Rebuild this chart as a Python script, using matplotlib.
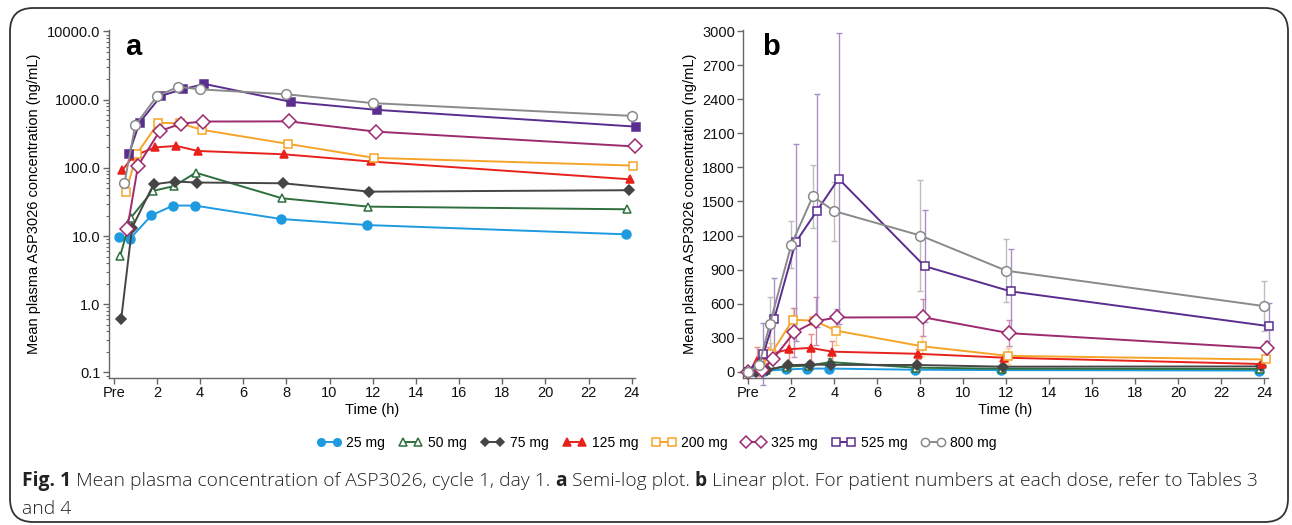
import matplotlib
matplotlib.use("Agg")
import matplotlib.pyplot as plt
from matplotlib.patches import FancyBboxPatch
from matplotlib.ticker import FixedLocator, LogLocator, NullFormatter
import numpy as np

# ---------------- data ----------------
doses = ["25 mg", "50 mg", "75 mg", "125 mg", "200 mg", "325 mg", "525 mg", "800 mg"]
times = [0.5, 1, 2, 3, 4, 8, 12, 24]          # nominal sampling times (h)
pre_value = 0.0                                # pre-dose concentration (linear plot)

mean_25 = [9.7, 9.1, 20.1, 28, 28, 17.8, 14.5, 10.6]
mean_50 = [5.1, 18.6, 45.8, 54, 85, 35.8, 27, 24.7]
mean_75 = [0.61, 13.2, 57.5, 63, 61, 59.4, 44.8, 47]
mean_125 = [92, 148, 199, 210, 177, 158, 124, 68]
mean_200 = [44.5, 160, 458, 450, 362, 225, 140, 108]
mean_325 = [12.8, 108, 346, 445, 478, 480, 340, 206]
mean_525 = [157, 462, 1140, 1420, 1700, 930, 708, 402]
mean_800 = [60, 420, 1120, 1545, 1415, 1200, 890, 578]

sd_25 = [5, 5, 8, 10, 10, 6, 5, 4]
sd_50 = [5, 15, 30, 35, 40, 20, 15, 12]
sd_75 = [1, 10, 30, 35, 30, 30, 25, 25]
sd_125 = [125, 70, 180, 120, 90, 45, 30, 20]
sd_200 = [30, 90, 105, 40, 130, 90, 70, 25]
sd_325 = [15, 80, 215, 210, 75, 165, 115, 65]
sd_525 = [270, 365, 870, 1030, 1280, 495, 370, 200]
sd_800 = [50, 235, 210, 275, 260, 490, 280, 220]

means = [mean_25, mean_50, mean_75, mean_125, mean_200, mean_325, mean_525, mean_800]
sds = [sd_25, sd_50, sd_75, sd_125, sd_200, sd_325, sd_525, sd_800]

log_ticks = [0.1, 1, 10, 100, 1000, 10000]
log_ticklabels = ["0.1", "1.0", "10.0", "100.0", "1000.0", "10000.0"]
lin_ticks = list(range(0, 3001, 300))
x_ticks = list(range(0, 25, 2))
x_ticklabels = ["Pre"] + [str(t) for t in x_ticks[1:]]

# ---------------- styles ----------------
colors = ["#1e9be0", "#2f6f3e", "#454545", "#e8211c", "#f6a428", "#9c2a6e", "#5a2d8e", "#8a8a8a"]
bar_colors = ["#86c8ee", "#8fb59a", "#9a9a9a", "#f08a86", "#f9cf8c", "#c98db0", "#a98fc8", "#bdbdbd"]
markers = ["o", "^", "D", "^", "s", "D", "s", "o"]
filled_a = [True, False, True, True, False, False, True, False]
filled_b = [True, False, True, True, False, False, False, False]
msizes = [6.4, 6.2, 5.2, 6.2, 6.2, 6.8, 6.2, 7.0]
jitter = [-0.25, -0.2, -0.15, -0.1, 0.07, 0.13, 0.2, 0.0]

FONT = ["Liberation Sans", "DejaVu Sans"]
plt.rcParams["font.family"] = FONT
plt.rcParams["axes.linewidth"] = 1.0

W, H = 1292, 525
fig = plt.figure(figsize=(W / 100, H / 100), dpi=100)

# frame around the whole figure
frame = FancyBboxPatch((10 / W, 3 / H), (W - 14) / W, (H - 11) / H,
                       boxstyle="round,pad=0,rounding_size=0.018",
                       transform=fig.transFigure, fill=False,
                       edgecolor="#333333", linewidth=1.3, mutation_aspect=W / H)
fig.patches.append(frame)

axA = fig.add_axes([108.7 / W, 1 - 378 / H, (635 - 108.7) / W, (378 - 30) / H])
axB = fig.add_axes([743.4 / W, 1 - 378 / H, (1267.5 - 743.4) / W, (378 - 30) / H])

spine_col = "#666666"
for ax in (axA, axB):
    for s in ("top", "right"):
        ax.spines[s].set_visible(False)
    for s in ("left", "bottom"):
        ax.spines[s].set_color(spine_col)
    ax.tick_params(axis="both", which="major", direction="out", length=4, width=1,
                   color=spine_col, labelsize=10.5, labelcolor="#111111", pad=2)
    ax.tick_params(axis="both", which="minor", direction="out", length=2.5, width=0.8,
                   color=spine_col)
    ax.set_xlim(-0.23, 24.15)
    ax.xaxis.set_major_locator(FixedLocator(x_ticks))
    ax.set_xticklabels(x_ticklabels)
    ax.set_xlabel("Time (h)", fontsize=10.5, labelpad=2)
    ax.set_ylabel("Mean plasma ASP3026 concentration (ng/mL)", fontsize=10.5, labelpad=4)

# ---- panel a (semi-log) ----
axA.set_yscale("log")
axA.set_ylim(0.083, 10500)
axA.yaxis.set_major_locator(FixedLocator(log_ticks))
axA.set_yticklabels(log_ticklabels)
axA.yaxis.set_minor_locator(LogLocator(base=10, subs=np.arange(2, 10)))
axA.yaxis.set_minor_formatter(NullFormatter())

handles = []
for i in range(len(doses)):
    x = [t + jitter[i] for t in times]
    mfc = colors[i] if filled_a[i] else "white"
    axA.plot(x, means[i], color=colors[i], lw=1.4, marker=markers[i], ms=msizes[i],
             mfc=mfc, mec=colors[i], mew=1.1, zorder=3 + i * 0.1, clip_on=False)

# ---- panel b (linear) ----
axB.set_ylim(-55, 3010)
axB.yaxis.set_major_locator(FixedLocator(lin_ticks))
for i in range(len(doses)):
    x = [0.0] + [t + jitter[i] for t in times]
    y = [pre_value] + list(means[i])
    e = [0.0] + list(sds[i])
    axB.errorbar(x, y, yerr=e, fmt="none", ecolor=bar_colors[i], elinewidth=1.0,
                 capsize=2.5, capthick=1.0, zorder=2, clip_on=False)
for i in range(len(doses)):
    x = [0.0] + [t + jitter[i] for t in times]
    y = [pre_value] + list(means[i])
    mfc = colors[i] if filled_b[i] else "white"
    h, = axB.plot(x, y, color=colors[i], lw=1.4, marker=markers[i], ms=msizes[i],
                  mfc=mfc, mec=colors[i], mew=1.1, zorder=3 + i * 0.1, clip_on=False)
    handles.append(h)

axA.text(0.031, 0.951, "a", transform=axA.transAxes, fontsize=21, fontweight="bold",
         va="center", ha="left")
axB.text(0.035, 0.951, "b", transform=axB.transAxes, fontsize=21, fontweight="bold",
         va="center", ha="left")

leg = fig.legend(handles, doses, loc="center", bbox_to_anchor=(657 / W, 1 - 443 / H), ncol=8,
                 frameon=False, fontsize=10, numpoints=2, handlelength=1.7,
                 handletextpad=0.4, columnspacing=1.0, borderaxespad=0, markerscale=0.85)

# ---------------- caption (mixed weights) ----------------
CAP = ["Open Sans", "DejaVu Sans"]
cap_size = 13.9
cap_col = "#222222"
line1 = [("Fig. 1", "bold"), (" Mean plasma concentration of ASP3026, cycle 1, day 1. ", "light"),
         ("a", "bold"), (" Semi-log plot. ", "light"), ("b", "bold"),
         (" Linear plot. For patient numbers at each dose, refer to Tables 3", "light")]
line2 = [("and 4", "light")]

renderer = fig.canvas.get_renderer()

def draw_runs(runs, x0, y0):
    x = x0
    for txt, wt in runs:
        t = fig.text(x / W, 1 - y0 / H, txt, fontsize=cap_size, fontweight=wt,
                     family=CAP, color=cap_col, va="baseline", ha="left")
        bb = t.get_window_extent(renderer=renderer)
        x += bb.width
    return x

draw_runs(line1, 22, 486)
draw_runs(line2, 22, 514)

fig.savefig("out.png", dpi=100)
